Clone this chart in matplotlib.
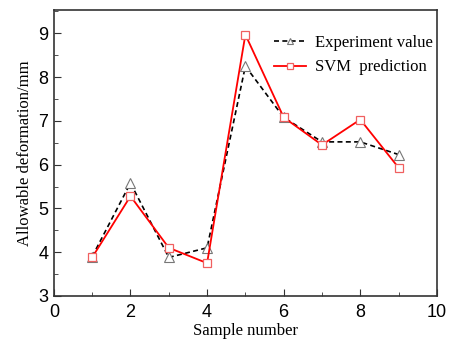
import matplotlib.pyplot as plt
from matplotlib.ticker import MultipleLocator

samples = [1, 2, 3, 4, 5, 6, 7, 8, 9]
experiment = [3.90, 5.58, 3.88, 4.10, 8.25, 7.08, 6.52, 6.52, 6.23]
svm = [3.88, 5.28, 4.10, 3.75, 8.97, 7.08, 6.45, 7.03, 5.93]

fig = plt.figure(figsize=(4.49, 3.49), dpi=100)
ax = fig.add_axes([0.12, 0.152, 0.853, 0.819])

ax.plot(samples, experiment, color="black", linestyle=(0, (3, 2)), linewidth=1.2,
        marker="^", markersize=7, markerfacecolor="white", markeredgecolor="#777777",
        markeredgewidth=0.8, label="Experiment value")
ax.plot(samples, svm, color="red", linewidth=1.3,
        marker="s", markersize=6, markerfacecolor="white", markeredgecolor="#f06060",
        markeredgewidth=0.9, label="SVM  prediction")

ax.set_xlim(0, 10)
ax.set_ylim(3, 9.53)
ax.xaxis.set_major_locator(MultipleLocator(2))
ax.xaxis.set_minor_locator(MultipleLocator(1))
ax.yaxis.set_major_locator(MultipleLocator(1))
ax.yaxis.set_minor_locator(MultipleLocator(0.5))
ax.tick_params(which="both", direction="in", top=False, right=False,
               labelsize=13, color="#333333")
ax.tick_params(which="major", length=5)
ax.tick_params(which="minor", length=3)
ax.tick_params(axis="x", pad=6)
ax.tick_params(axis="y", pad=4)
for lbl in ax.get_xticklabels() + ax.get_yticklabels():
    lbl.set_fontfamily("Liberation Sans")
for s in ax.spines.values():
    s.set_color("#333333")
    s.set_linewidth(1.2)

ax.set_xlabel("Sample number", fontfamily="Liberation Serif", fontsize=12, labelpad=1)
ax.set_ylabel("Allowable deformation/mm", fontfamily="Liberation Serif", fontsize=12,
              labelpad=4)

leg = ax.legend(loc="upper right", bbox_to_anchor=(1.007, 0.937), borderaxespad=0,
                frameon=False, prop={"family": "Liberation Serif", "size": 12},
                numpoints=1, handlelength=1.9, handletextpad=0.55, labelspacing=0.52)
for h in leg.legend_handles:
    h.set_markersize(5)

fig.savefig("out.png", dpi=100)
